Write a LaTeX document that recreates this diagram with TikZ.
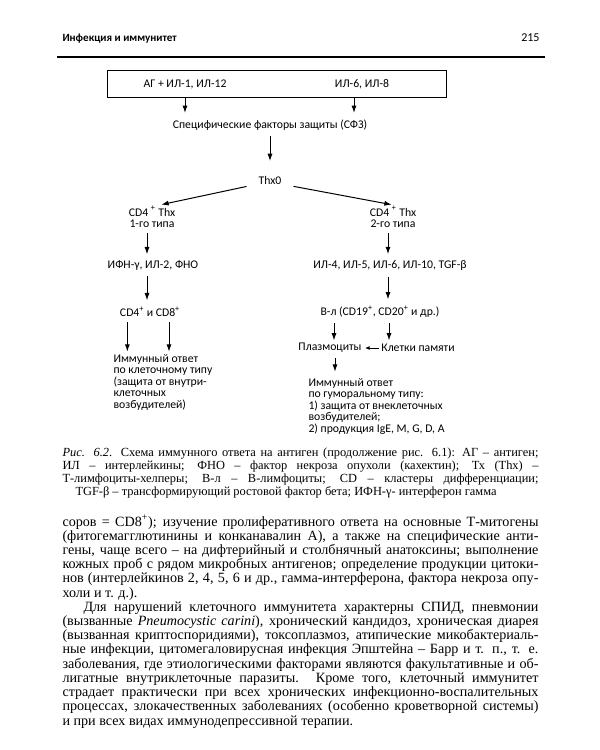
\documentclass[tikz,border=0pt]{standalone}
\usepackage{fontspec}
\setmainfont{Liberation Serif}
\setsansfont{Carlito}
\usetikzlibrary{arrows.meta}

\tikzset{every picture/.style={line width=0.75pt}}
\tikzset{
  lbl/.style={font=\sffamily\fontsize{8.8}{8.6}\selectfont, inner sep=0.75pt},
  blk/.style={lbl, anchor=north west, align=left},
  arr/.style={-{Latex[length=5.5pt,width=3.8pt]}, shorten <=3pt, shorten >=4pt},
  bodytext/.style={anchor=base west, inner sep=0pt, font=\fontsize{10.6}{12}\selectfont},
  captext/.style={anchor=base west, inner sep=0pt, font=\fontsize{9.3}{11}\selectfont},
}
\newcommand{\jline}[2][357pt]{\hbox to #1{#2}}

\begin{document}
\begin{tikzpicture}[x=0.75pt,y=0.75pt,yscale=-1,xscale=1]
\useasboundingbox (0,0) rectangle (600,750);
\fill [white] (0,0) rectangle (600,750);

% Page head
\node (head) [anchor=base west, inner sep=0pt, font=\sffamily\bfseries\fontsize{8.3}{9}\selectfont] at (62,41) {Инфекция и иммунитет};
\node (page) [anchor=base east, inner sep=0pt, font=\sffamily\fontsize{9}{10}\selectfont] at (540,41) {215};
\draw [line width=1.1pt] (57,57) -- (545,57);

% Top box
\node (top) [draw, minimum width=254.25pt, minimum height=20.25pt, inner sep=0pt] at (276.5,83.5) {};
\node (ag) [lbl] at (185,84) {АГ + ИЛ-1, ИЛ-12};
\node (il6) [lbl] at (362,84) {ИЛ-6, ИЛ-8};
\coordinate (a1) at (185,94);
\coordinate (a2) at (354,94);

% Middle
\node (sfz) [lbl] at (270,125) {Специфические факторы защиты (СФЗ)};
\node (thx0) [lbl] at (270,180) {Thx0};
\draw [arr] (a1) -- (a1 |- sfz.north);
\draw [arr] (a2) -- (a2 |- sfz.north);
\draw [arr, shorten >=10pt] (sfz.south) -- (thx0.north);

% Left branch
\node (th1) [lbl, align=center] at (152,217) {CD4 \textsuperscript{+} Thx\\1-го типа};
\node (ifn) [lbl] at (153,266) {ИФН-γ, ИЛ-2, ФНО};
\node (cd48) [lbl] at (150,312) {CD4\textsuperscript{+} и CD8\textsuperscript{+}};
\node (imm1) [blk] at (112,353) {Иммунный ответ\\по клеточному типу\\(защита от внутри-\\клеточных\\возбудителей)};
\draw [arr, shorten >=1pt] ([xshift=-5pt]thx0.south west) -- ([xshift=6pt]th1.north);
\coordinate (l1) at ([xshift=-3.75pt]th1.south);
\draw [arr] (l1) -- (l1 |- ifn.north);
\coordinate (l2) at ([xshift=-4.5pt]ifn.south);
\draw [arr] (l2) -- (l2 |- cd48.north);
\coordinate (l3) at ([xshift=-17pt]cd48.south);
\coordinate (l4) at ([xshift=14.25pt]cd48.south);
\draw [arr, shorten >=1pt] (l3) -- (l3 |- imm1.north);
\draw [arr, shorten >=1pt] (l4) -- (l4 |- imm1.north);

% Right branch
\node (th2) [lbl, align=center] at (393,217) {CD4 \textsuperscript{+} Thx\\2-го типа};
\node (il4) [lbl] at (390,266) {ИЛ-4, ИЛ-5, ИЛ-6, ИЛ-10, TGF-β};
\node (bl) [lbl] at (380,312) {В-л (CD19\textsuperscript{+}, CD20\textsuperscript{+} и др.)};
\node (plasma) [lbl] at (330,348) {Плазмоциты};
\node (mem) [lbl] at (418,348) {Клетки памяти};
\node (imm2) [blk] at (307,377) {Иммунный ответ\\по гуморальному типу:\\1) защита от внеклеточных\\возбудителей;\\2) продукция IgE, M, G, D, A};
\draw [arr, shorten >=1pt] ([xshift=5pt]thx0.south east) -- (th2.north);
\coordinate (r1) at ([xshift=-3.75pt]th2.south);
\draw [arr] (r1) -- (r1 |- il4.north);
\coordinate (r2) at ([xshift=-1.5pt]il4.south);
\draw [arr] (r2) -- (r2 |- bl.north);
\coordinate (r3) at ([xshift=-34.5pt]bl.south);
\coordinate (r4) at ([xshift=6.75pt]bl.south);
\draw [arr, shorten >=1pt] (r3) -- (r3 |- plasma.north);
\draw [arr, shorten >=1pt] (r4) -- (r4 |- plasma.north);
\draw [arr, -{Latex[length=3.5pt,width=3pt]}, shorten <=1pt, shorten >=1.5pt] (mem.west) -- (plasma.east);
\coordinate (r5) at ([xshift=3.75pt]plasma.south);
\draw [arr] (r5) -- (r5 |- imm2.north);

% Caption
\node (c1) [captext] at (62,456) {\jline{\textit{Рис. 6.2}. Схема иммунного ответа на антиген (продолжение рис. 6.1): АГ – антиген;}};
\node (c2) [captext] at (62,469) {\jline{ИЛ – интерлейкины; ФНО – фактор некроза опухоли (кахектин); Тх (Thx) –}};
\node (c3) [captext] at (62,482) {\jline{Т-лимфоциты-хелперы; В-л – В-лимфоциты; CD – кластеры дифференциации;}};
\node (c4) [captext] at (75,495) {TGF-β – трансформирующий ростовой фактор бета; ИФН-γ- интерферон гамма};

% Body text
\node (t1) [bodytext] at (62,526) {\jline{соров = CD8\textsuperscript{+}); изучение пролиферативного ответа на основные Т-митогены}};
\node (t2) [bodytext] at (62,540.2) {\jline{(фитогемагглютинины и конканавалин А), а также на специфические анти-}};
\node (t3) [bodytext] at (62,554.4) {\jline{гены, чаще всего – на дифтерийный и столбнячный анатоксины; выполнение}};
\node (t4) [bodytext] at (62,568.6) {\jline{кожных проб с рядом микробных антигенов; определение продукции цитоки-}};
\node (t5) [bodytext] at (62,582.8) {\jline{нов (интерлейкинов 2, 4, 5, 6 и др., гамма-интерферона, фактора некроза опу-}};
\node (t6) [bodytext] at (62,597) {холи и т. д.).};
\node (t7) [bodytext] at (83,611.3) {\jline[341.25pt]{Для нарушений клеточного иммунитета характерны СПИД, пневмонии}};
\node (t8) [bodytext] at (62,625.5) {\jline{(вызванные \textit{Pneumocystic carini}), хронический кандидоз, хроническая диарея}};
\node (t9) [bodytext] at (62,639.7) {\jline{(вызванная криптоспоридиями), токсоплазмоз, атипические микобактериаль-}};
\node (t10) [bodytext] at (62,653.9) {\jline{ные инфекции, цитомегаловирусная инфекция Эпштейна – Барр и т. п., т. е.}};
\node (t11) [bodytext] at (62,668.1) {\jline{заболевания, где этиологическими факторами являются факультативные и об-}};
\node (t12) [bodytext] at (62,682.3) {\jline{лигатные внутриклеточные паразиты. Кроме того, клеточный иммунитет}};
\node (t13) [bodytext] at (62,696.5) {\jline{страдает практически при всех хронических инфекционно-воспалительных}};
\node (t14) [bodytext] at (62,710.7) {\jline{процессах, злокачественных заболеваниях (особенно кроветворной системы)}};
\node (t15) [bodytext] at (62,725) {и при всех видах иммунодепрессивной терапии.};
\end{tikzpicture}
\end{document}
